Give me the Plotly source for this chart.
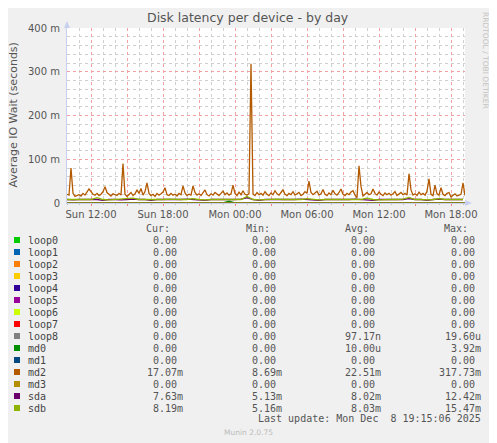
import pandas as pd
import plotly.graph_objects as go

# md2 average wait, 10 minute samples from Sun 10:00 (milliseconds)
MD2 = [20, 18, 80, 22, 15, 17, 19, 16, 22, 18, 25, 32, 26, 20, 18, 22, 17, 20, 26, 37,
       24, 19, 16, 21, 19, 17, 22, 18, 90, 20, 15, 19, 24, 17, 21, 30, 22, 33, 18, 26,
       46, 22, 17, 20, 15, 22, 18, 21, 25, 35, 19, 17, 22, 18, 20, 16, 22, 19, 39, 23,
       17, 20, 18, 39, 24, 18, 21, 17, 23, 30, 19, 16, 21, 18, 24, 20, 17, 22, 27, 19,
       23, 18, 21, 41, 22, 17, 25, 19, 28, 20, 18, 22, 318, 20, 17, 24, 19, 22, 18, 26,
       20, 17, 23, 19, 28, 21, 18, 24, 30, 20, 17, 22, 19, 26, 18, 21, 24, 17, 20, 26,
       22, 50, 24, 19, 22, 27, 18, 21, 31, 20, 17, 23, 19, 29, 21, 18, 24, 32, 20, 17,
       22, 19, 25, 28, 18, 12, 85, 38, 16, 20, 24, 19, 21, 32, 22, 18, 25, 20, 17, 23,
       19, 22, 18, 21, 26, 17, 20, 24, 19, 22, 18, 67, 30, 18, 21, 17, 25, 19, 22, 18,
       27, 55, 20, 17, 41, 21, 18, 35, 20, 17, 22, 24, 14, 18, 21, 16, 19, 20, 46, 17]

# 30 minute samples (milliseconds)
SDB = [8, 8, 9, 8, 8, 12, 8, 7, 8, 8, 9, 11, 8, 8, 7, 8, 8, 9, 8, 8, 8, 10, 8, 7, 8, 8, 8,
       9, 8, 8, 15, 8, 7, 8, 8, 9, 8, 8, 8, 8, 10, 8, 7, 8, 8, 8, 9, 8, 8, 8, 11, 8, 7, 8,
       8, 8, 9, 13, 8, 8, 7, 8, 10, 8, 8, 9, 8]
SDA = [8, 7, 8, 8, 9, 8, 6, 8, 8, 7, 8, 9, 8, 8, 6, 8, 8, 8, 7, 8, 9, 8, 8, 6, 8, 8, 8,
       7, 8, 9, 12, 8, 6, 8, 8, 8, 7, 8, 8, 9, 8, 8, 6, 8, 8, 7, 8, 8, 9, 8, 8, 6, 8, 8,
       8, 7, 8, 10, 8, 8, 6, 8, 9, 8, 8, 7, 8]
MD0 = [0, 0, 0, 0, 0, 0, 0, 0, 0, 0, 0, 0, 0, 0, 0, 0, 0, 0, 0, 0, 0, 0, 0, 0, 0, 0, 0,
       3.9, 0, 0, 0, 0, 0, 0, 0, 0, 0, 0, 0, 0, 0, 0, 0, 0, 0, 0, 0, 0, 0, 0, 0, 0, 0, 0,
       0, 0, 0, 0, 0, 0, 0, 0, 0, 0, 0, 0, 0]

NAMES = ["loop0", "loop1", "loop2", "loop3", "loop4", "loop5", "loop6", "loop7",
         "loop8", "md0", "md1", "md2", "md3", "sda", "sdb"]
COLORS = ["#00CC00", "#0066B3", "#FF8000", "#FFCC00", "#330099", "#990099", "#CCFF00",
          "#FF0000", "#808080", "#008F00", "#00487D", "#B35A00", "#B38F00", "#6B006B",
          "#8FB300"]
CUR = ["0.00"] * 11 + ["17.07m", "0.00", "7.63m", "8.19m"]
MIN = ["0.00"] * 11 + ["8.69m", "0.00", "5.13m", "5.16m"]
AVG = ["0.00"] * 8 + ["97.17n", "10.00u", "0.00", "22.51m", "0.00", "8.02m", "8.03m"]
MAX = ["0.00"] * 8 + ["19.60u", "3.92m", "0.00", "317.73m", "0.00", "12.42m", "15.47m"]

YTICKS = [0, 0.1, 0.2, 0.3, 0.4]
YTICKTEXT = ["0", "100 m", "200 m", "300 m", "400 m"]

START = pd.Timestamp("2025-12-07 10:00")
END = pd.Timestamp("2025-12-08 19:10")

t10 = pd.date_range(START, periods=len(MD2), freq="10min")
t30 = pd.date_range(START, periods=len(SDB), freq="30min")

series = {n: ([START, END], [0, 0]) for n in NAMES}
series["md0"] = (t30, [v / 1000 for v in MD0])
series["md2"] = (t10, [v / 1000 for v in MD2])
series["sda"] = (t30, [v / 1000 for v in SDA])
series["sdb"] = (t30, [v / 1000 for v in SDB])

fig = go.Figure()
for name, color in zip(NAMES, COLORS):
    xs, ys = series[name]
    fig.add_trace(go.Scatter(x=xs, y=ys, mode="lines", line=dict(color=color, width=1.3),
                             name=name, showlegend=False))

# major ticks every 3h, labelled every 6h
major = pd.date_range("2025-12-07 12:00", "2025-12-08 18:00", freq="3h")
major_text = [d.strftime("%a %H:%M") if d.hour % 6 == 0 else "" for d in major]

# the page puts the figure 8px in from the top-left corner
OFF = 8
W, H = 497 - OFF, 443 - OFF
L, T = 67 - OFF, 28 - OFF
R = 497 - 465
B = 443 - 203
PW, PH = W - L - R, H - T - B


def px(x):
    return (x - OFF - L) / PW


def py(y):
    return (H - B - (y - OFF)) / PH


fig.update_layout(
    width=W, height=H,
    margin=dict(l=L, r=R, t=T, b=B),
    paper_bgcolor="#F0F0F0", plot_bgcolor="white",
    font=dict(family="DejaVu Sans", size=10, color="#555555"),
    xaxis=dict(range=[START, END], tickmode="array", tickvals=major, ticktext=major_text,
               showgrid=True, gridcolor="#F2A0A0", griddash="dot", gridwidth=1,
               minor=dict(tickmode="linear", tick0=START, dtick=3600000, showgrid=True,
                          gridcolor="#D0D0D0", griddash="dot",
                          ticks="outside", ticklen=1, tickcolor="#C0C0C0"),
               ticks="outside", ticklen=2, tickcolor="#F08080",
               showline=True, linecolor="#C8D0F0", zeroline=False,
               tickfont=dict(size=10, color="#555555"), fixedrange=True),
    yaxis=dict(range=[0, 0.4], tickmode="array", tickvals=YTICKS, ticktext=YTICKTEXT,
               showgrid=True, gridcolor="#F2A0A0", griddash="dot",
               minor=dict(tickmode="linear", tick0=0, dtick=0.02, showgrid=True,
                          gridcolor="#D0D0D0", griddash="dot"),
               showline=True, linecolor="#C8D0F0", zeroline=False, ticks="",
               ticklabelstandoff=4, tickfont=dict(size=10, color="#555555"),
               fixedrange=True),
)

ann = []
ann.append(dict(x=px(248), y=py(18), text="Disk latency per device - by day",
                font=dict(size=12.5, color="#555555")))
ann.append(dict(x=px(12.5), y=py(115), text="Average IO Wait (seconds)", textangle=-90,
                borderpad=0, font=dict(size=11, color="#555555")))
ann.append(dict(x=px(486), y=py(60), text="RRDTOOL / TOBI OETIKER", textangle=90,
                borderpad=0, font=dict(size=7.5, color="#C4C4C4")))
ann.append(dict(x=px(248), y=py(432), text="Munin 2.0.75",
                font=dict(size=7.5, color="#BBBBBB")))

mono = dict(family="DejaVu Sans Mono", size=10, color="#555555")
col_right = [185, 284, 383, 483]
for hx, h in zip([172, 272, 371, 470], ["Cur:", "Min:", "Avg:", "Max:"]):
    ann.append(dict(x=px(hx), y=py(228), text=h, xanchor="right", font=mono))

shapes = []
for i, name in enumerate(NAMES):
    ry = 240 + 12 * i
    shapes.append(dict(type="rect", xref="paper", yref="paper",
                       x0=px(14), x1=px(20), y0=py(ry + 3), y1=py(ry - 3),
                       fillcolor=COLORS[i], line=dict(width=0)))
    ann.append(dict(x=px(26), y=py(ry), text=name, xanchor="left",
                    font=dict(family="DejaVu Sans Mono", size=10, color="#444444")))
    for cr, vals in zip(col_right, [CUR, MIN, AVG, MAX]):
        v = vals[i]
        edge = cr if v[-1].isalpha() else cr - 6
        ann.append(dict(x=px(edge), y=py(ry), text=v, xanchor="right", font=mono))

ann.append(dict(x=px(483), y=py(419), text="Last update: Mon Dec&nbsp;&nbsp;8 19:15:06 2025",
                xanchor="right", font=mono))

for a in ann:
    a.setdefault("xanchor", "center")
    a.update(xref="paper", yref="paper", showarrow=False, yanchor="middle")

# axis arrows
shapes.append(dict(type="path", xref="paper", yref="paper",
                   path=f"M {px(64)} {py(28)} L {px(70)} {py(28)} L {px(67)} {py(21)} Z",
                   fillcolor="#C8D0F0", line=dict(width=0)))
shapes.append(dict(type="path", xref="paper", yref="paper",
                   path=f"M {px(465)} {py(200)} L {px(465)} {py(206)} L {px(472)} {py(203)} Z",
                   fillcolor="#C8D0F0", line=dict(width=0)))

fig.update_layout(annotations=ann, shapes=shapes)

fig.write_html("out.html")
